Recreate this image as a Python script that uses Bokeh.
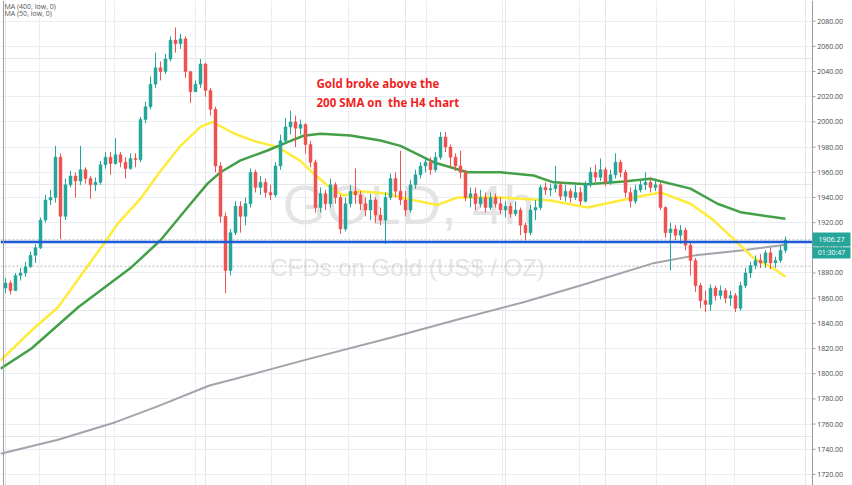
from bokeh.plotting import figure
from bokeh.models import ColumnDataSource, Range1d, FixedTicker, Grid, Span
from bokeh.core.properties import value
from bokeh.embed import file_html
from bokeh.resources import INLINE

# ---------------- data (4h candles, index = bar number) ----------------
first_open = 1868
closes = [
    1872, 1866, 1878, 1880, 1885, 1894, 1900, 1922, 1938, 1940,
    1972, 1925, 1950, 1957, 1953, 1962, 1955, 1950, 1952, 1966,
    1972, 1967, 1974, 1968, 1963, 1971, 1970, 2002, 2012, 2030,
    2043, 2040, 2050, 2065, 2062, 2066, 2040, 2024, 2030, 2046,
    2025, 2010, 1965, 1925, 1882, 1912, 1933, 1925, 1935, 1960,
    1948, 1952, 1944, 1942, 1965, 1985, 1996, 2000, 1995, 1998,
    1982, 1968, 1932, 1943, 1935, 1950, 1940, 1915, 1935, 1945,
    1942, 1935, 1930, 1938, 1926, 1922, 1940, 1955, 1945, 1938,
    1930, 1950, 1958, 1965, 1968, 1962, 1972, 1988, 1980, 1972,
    1965, 1960, 1940, 1943, 1935, 1940, 1932, 1940, 1935, 1930,
    1933, 1927, 1930, 1918, 1912, 1930, 1932, 1948, 1946, 1947,
    1950, 1941, 1945, 1940, 1944, 1937, 1950, 1960, 1956, 1962,
    1952, 1958, 1968, 1960, 1944, 1937, 1946, 1950, 1952, 1948,
    1950, 1932, 1912, 1915, 1910, 1914, 1902, 1890, 1870, 1858,
    1855, 1868, 1862, 1866, 1860, 1862, 1852, 1870, 1880, 1886,
    1890, 1888, 1896, 1888, 1890, 1898, 1906.27]
highs = [
    1876, 1874, 1880, 1884, 1889, 1897, 1903, 1924, 1942, 1946,
    1981, 1975, 1955, 1961, 1960, 1981, 1964, 1957, 1956, 1969,
    1976, 1976, 1987, 1976, 1972, 1975, 1975, 2004, 2016, 2036,
    2055, 2048, 2054, 2068, 2075, 2070, 2068, 2040, 2033, 2050,
    2047, 2027, 2012, 1968, 1928, 1915, 1937, 1937, 1940, 1963,
    1962, 1957, 1955, 1950, 1968, 1990, 2003, 2009, 2005, 2002,
    1999, 1985, 1970, 1948, 1946, 1955, 1952, 1942, 1940, 1950,
    1963, 1945, 1940, 1943, 1940, 1932, 1944, 1959, 1960, 1977,
    1945, 1954, 1962, 1968, 1972, 1972, 1976, 1992, 1992, 1982,
    1975, 1977, 1962, 1948, 1948, 1946, 1944, 1944, 1943, 1940,
    1937, 1936, 1937, 1932, 1920, 1934, 1938, 1950, 1952, 1951,
    1965, 1952, 1950, 1947, 1950, 1948, 1953, 1964, 1966, 1971,
    1964, 1962, 1975, 1970, 1962, 1948, 1950, 1954, 1960, 1956,
    1955, 1952, 1933, 1920, 1918, 1918, 1916, 1904, 1892, 1872,
    1866, 1871, 1870, 1870, 1868, 1866, 1864, 1873, 1884, 1889,
    1894, 1895, 1898, 1900, 1893, 1902, 1909]
lows = [
    1864, 1863, 1866, 1874, 1877, 1884, 1888, 1899, 1920, 1934,
    1936, 1907, 1922, 1948, 1940, 1950, 1951, 1939, 1945, 1950,
    1963, 1958, 1966, 1964, 1955, 1962, 1964, 1968, 1999, 2010,
    2027, 2033, 2038, 2048, 2055, 2058, 2035, 2015, 2024, 2027,
    2020, 2005, 1960, 1920, 1864, 1878, 1910, 1912, 1918, 1932,
    1944, 1942, 1940, 1938, 1940, 1962, 1983, 1990, 1980, 1990,
    1975, 1964, 1928, 1928, 1930, 1932, 1935, 1911, 1913, 1932,
    1935, 1930, 1925, 1922, 1920, 1918, 1903, 1938, 1940, 1934,
    1925, 1928, 1947, 1955, 1960, 1958, 1960, 1970, 1976, 1964,
    1961, 1955, 1937, 1932, 1930, 1932, 1928, 1930, 1932, 1927,
    1924, 1924, 1925, 1910, 1906, 1910, 1922, 1930, 1942, 1941,
    1944, 1938, 1937, 1936, 1938, 1934, 1936, 1948, 1952, 1953,
    1949, 1950, 1955, 1956, 1940, 1932, 1935, 1944, 1946, 1944,
    1945, 1930, 1908, 1882, 1906, 1903, 1898, 1878, 1865, 1852,
    1849, 1850, 1858, 1859, 1856, 1854, 1849, 1850, 1868, 1876,
    1883, 1884, 1884, 1883, 1884, 1888, 1896]

# moving averages (bar index, price)
ma50_idx = [-1, 5.2, 10.5, 15.8, 20, 22.4, 27, 31, 35, 39, 41.4, 45.6, 49.6, 54.4, 59,
            61.6, 64.4, 67.6, 71, 76.4, 79, 86.4, 90.4, 99, 109, 116.4, 127, 131, 137,
            141.6, 145.6, 149.6, 153.6, 156]
ma50_val = [1810.5, 1834.3, 1852.8, 1882, 1905, 1919, 1939, 1961, 1981, 1996, 2000, 1991,
            1985, 1980, 1969, 1959, 1949.5, 1941.6, 1945, 1943, 1940, 1934, 1940, 1940,
            1937.5, 1932, 1941, 1944, 1935, 1922, 1907, 1892, 1883.6, 1877]
ma200_idx = [-1, 5.2, 14.6, 25.2, 31, 36.4, 40.4, 43, 47, 52.4, 56.4, 59.6, 63, 69, 75,
             79, 85.6, 92.4, 99, 105.6, 109.6, 116.4, 123.6, 129, 137, 142.4, 147,
             152.4, 156]
ma200_val = [1804, 1820, 1853, 1884.6, 1906, 1932, 1951, 1960, 1969.4, 1977.3, 1984, 1989,
             1990.6, 1989.2, 1985.2, 1981, 1968, 1960, 1960, 1957.4, 1952, 1950.5, 1952.7,
             1954.8, 1947, 1935, 1928.3, 1925, 1923]
ma400_idx = [-1, 10.5, 22, 30.4, 40.8, 46, 60.7, 77.4, 91, 103.6, 115, 129.8, 138,
             147.5, 156]
ma400_val = [1736.4, 1747.5, 1761.5, 1774, 1790.6, 1796, 1811.8, 1829, 1843.6, 1856.8,
             1870, 1888, 1894, 1898, 1902.4]

last_price = 1906.27
countdown = "01:30:47"
hline_level = 1904.6
prev_close_level = 1885.4
y_ticks = list(range(1720, 2081, 20))
y_tick_labels = [f"{t:.2f}" for t in y_ticks]
date_grid = [6.8, 21.8, 38, 53.2, 68.6, 84.2, 99.4, 114.8, 130.2, 145.8]

# ---------------- layout constants (bar units / price units) ----------------
X0, X_PANE_END, X1 = -1.0, 161.4, 169.4      # pane ends where the price scale starts
Y0, Y1 = 1711.2, 2096.44

# ---------------- build table ----------------
opens = [first_open] + closes[:-1]
idx = list(range(len(closes)))
up_col, dn_col = "#26a69a", "#ef5350"
colors = [up_col if c >= o else dn_col for o, c in zip(opens, closes)]
src = ColumnDataSource(dict(
    x=idx, open=opens, close=closes, high=highs, low=lows,
    top=[max(o, c) for o, c in zip(opens, closes)],
    bottom=[min(o, c) for o, c in zip(opens, closes)],
    color=colors))

p = figure(width=852, height=485, x_range=Range1d(X0, X1), y_range=Range1d(Y0, Y1),
           y_axis_location=None, x_axis_location=None, toolbar_location=None,
           output_backend="svg", min_border_left=0, min_border_right=0,
           min_border_top=0, min_border_bottom=0, outline_line_color=None,
           background_fill_color="white")

grid_col = "#e9eef5"
p.add_layout(Grid(dimension=1, ticker=FixedTicker(ticks=y_ticks), grid_line_color=grid_col))
p.add_layout(Grid(dimension=0, ticker=FixedTicker(ticks=date_grid), grid_line_color=grid_col))

# left pane border
p.add_layout(Span(location=-0.4, dimension="height", line_color="#a0a0a0", line_width=1))

# watermark
p.text(x=[80.6], y=[1934.4], text=["GOLD, 4h"], text_font=value("Liberation Sans"),
       text_font_size="56px", text_color="#e4e4e4", text_align="center", text_baseline="middle")
p.text(x=[80.4], y=[1884.0], text=["CFDs on Gold (US$ / OZ)"], text_font=value("Liberation Sans"),
       text_font_size="24px", text_color="#e4e4e4", text_align="center", text_baseline="middle")

# price lines (dotted)
p.segment(x0=[X0, X0], y0=[prev_close_level, last_price], x1=[X_PANE_END, X_PANE_END],
          y1=[prev_close_level, last_price], line_color=["#b8b8b8", "#9fb0b0"],
          line_dash="2 2", line_width=1)

# moving averages
p.line(ma400_idx, ma400_val, line_color="#a3a3ab", line_width=2)
p.line(ma50_idx, ma50_val, line_color="#ffeb3b", line_width=2.5)
p.line(ma200_idx, ma200_val, line_color="#43a047", line_width=2.5)

# candles
p.segment(x0="x", y0="high", x1="x", y1="low", color="color", line_width=1, source=src)
p.vbar(x="x", width=0.6, top="top", bottom="bottom", fill_color="color",
       line_color="color", line_width=0.5, source=src)

# horizontal drawn level
p.segment(x0=[X0], y0=[hline_level], x1=[X_PANE_END], y1=[hline_level],
          line_color="#1e5bd8", line_width=2.5)

# annotation
p.text(x=[62.2], y=[2030.5], text=["Gold broke above the"], text_font=value("Open Sans"),
       text_font_size="11.5px", text_font_style="bold", text_color="#f01e1e",
       text_baseline="middle")
p.text(x=[62.2], y=[2015.4], text=["200 SMA on\u00a0 the H4 chart"], text_font=value("Open Sans"),
       text_font_size="11.5px", text_font_style="bold", text_color="#f01e1e",
       text_baseline="middle")

# indicator legend
p.text(x=[-0.2, -0.2], y=[2091.3, 2085.9], text=["MA (400, low, 0)", "MA (50, low, 0)"],
       text_font=value("Open Sans"), text_font_size="7px", text_color="#555555",
       text_baseline="middle")

# ---------------- price scale (right) ----------------
p.quad(left=[X_PANE_END], right=[X1], bottom=[Y0], top=[Y1], fill_color="white", line_color=None)
p.segment(x0=[X_PANE_END], y0=[Y0], x1=[X_PANE_END], y1=[Y1], line_color="#9a9a9a", line_width=1)
p.segment(x0=[X_PANE_END] * len(y_ticks), y0=y_ticks, x1=[X_PANE_END + 0.6] * len(y_ticks),
          y1=y_ticks, line_color="#9a9a9a", line_width=1)
p.text(x=[X_PANE_END + 0.95] * len(y_ticks), y=y_ticks, text=y_tick_labels,
       text_font=value("Open Sans"), text_font_size="7px", text_color="#4a4a4a",
       text_align="left", text_baseline="middle")

# last price + countdown boxes
p.quad(left=[X_PANE_END, X_PANE_END], right=[X_PANE_END + 7.6, X_PANE_END + 7.6],
       bottom=[1901.1, 1891.6], top=[1912.2, 1900.5], fill_color="#26a69a", line_color=None)
p.text(x=[X_PANE_END + 3.8, X_PANE_END + 3.8], y=[last_price, 1896.0],
       text=[f"{last_price:.2f}", countdown], text_font=value("Open Sans"),
       text_font_size="7px", text_color="white", text_align="center", text_baseline="middle")

open("out.html", "w").write(file_html(p, INLINE))
